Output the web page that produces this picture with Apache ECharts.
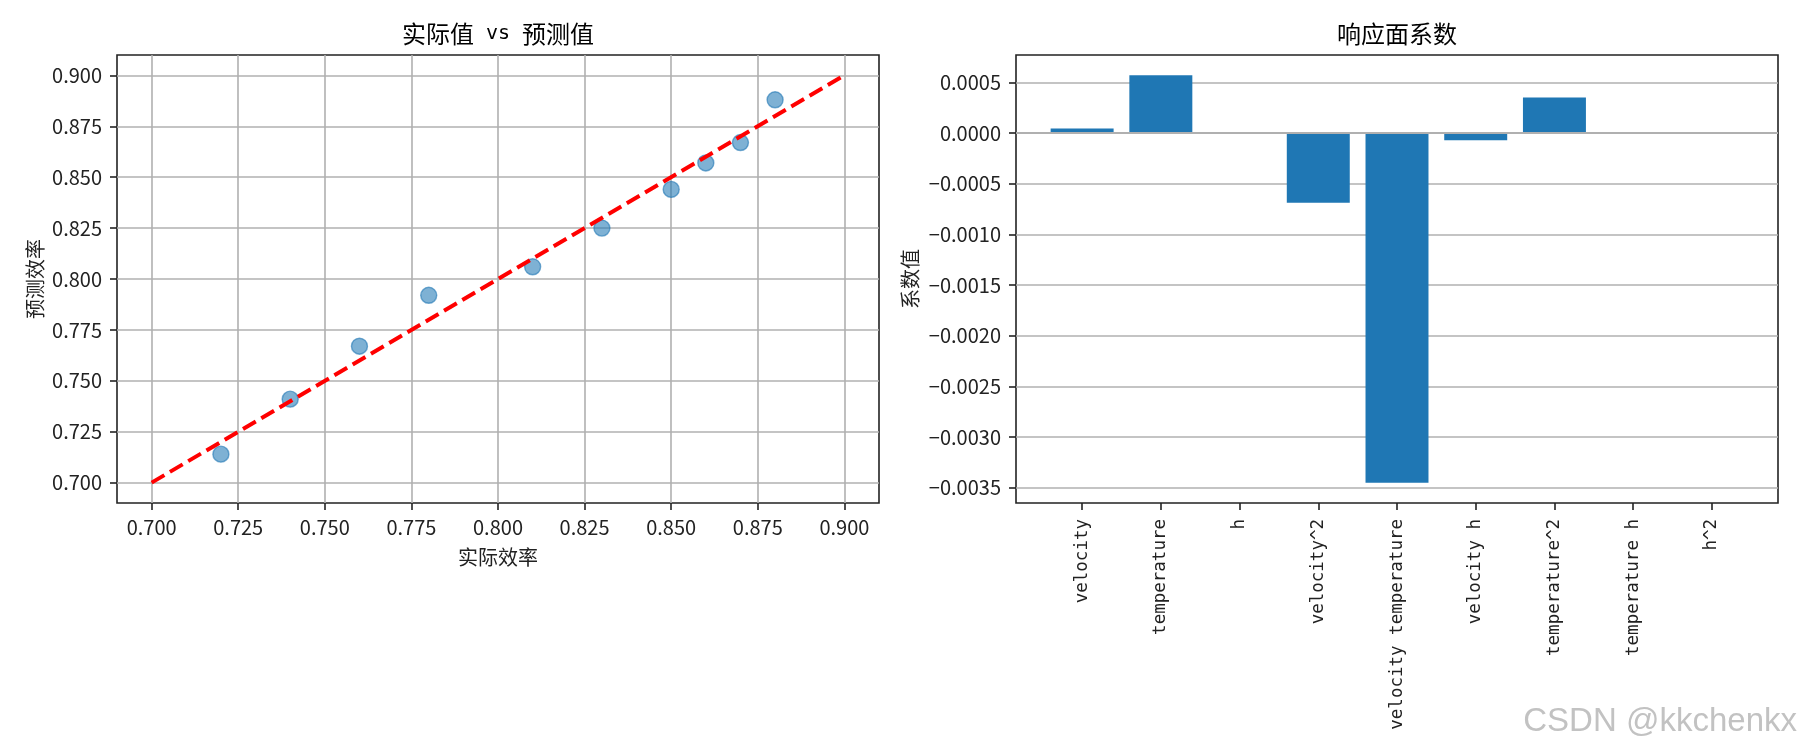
<!DOCTYPE html>
<html><head><meta charset="utf-8">
<script src="https://cdn.jsdelivr.net/npm/echarts@6/dist/echarts.min.js"></script>
<style>html,body{margin:0;padding:0;background:#fff}#c{width:1800px;height:750px}</style>
</head><body><div id="c"></div>
<script>
// ---- data ----
const actual = [0.72, 0.74, 0.76, 0.78, 0.81, 0.83, 0.85, 0.86, 0.87, 0.88];
const predicted = [0.714, 0.741, 0.767, 0.792, 0.806, 0.825, 0.844, 0.857, 0.867, 0.888];
const idealLine = [0.70, 0.90];
const scatterTicks = [0.700, 0.725, 0.750, 0.775, 0.800, 0.825, 0.850, 0.875, 0.900];
const features = ['velocity', 'temperature', 'h', 'velocity^2', 'velocity temperature', 'velocity h', 'temperature^2', 'temperature h', 'h^2'];
const coefs = [0.000045, 0.00057, 0.000002, -0.000687, -0.00345, -0.00007, 0.000351, 0, 0];
const coefTicks = [-0.0035, -0.0030, -0.0025, -0.0020, -0.0015, -0.0010, -0.0005, 0.0000, 0.0005];

// ---- helpers ----
const FONT = "'Noto Sans CJK SC', 'Noto Sans', sans-serif";
const MONO = "'DejaVu Sans Mono', 'Liberation Mono', monospace";
const INK = '#222';
const GRIDC = '#b0b0b0';
const lo = Math.min(idealLine[0], ...actual), hi = Math.max(idealLine[1], ...actual);
const pad = (hi - lo) * 0.05;
const cmin = Math.min(0, ...coefs), cmax = Math.max(0, ...coefs);
const cpad = (cmax - cmin) * 0.05;

const frameL = {left: 117, top: 55, width: 762, height: 448};
const frameR = {left: 1016, top: 55, width: 762, height: 448};
const unit = frameR.width / (features.length - 1 + 0.8 + 2 * 0.05 * (features.length - 1 + 0.8));
const innerOff = (frameR.width - unit * features.length) / 2;
const innerR = {left: frameR.left + innerOff, top: 55, width: unit * features.length, height: 448};

const tickStyle = {show: true, inside: false, length: 7, lineStyle: {color: INK, width: 1.6}};
const labelBase = {color: INK, fontSize: 20, fontFamily: FONT};
const gridLineStyle = {color: GRIDC, width: 1.6, type: 'solid'};

const chart = echarts.init(document.getElementById('c'));
chart.setOption({
  animation: false,
  backgroundColor: '#fff',
  grid: [
    Object.assign({show: true, borderColor: INK, borderWidth: 1.6, backgroundColor: 'transparent'}, frameL),
    Object.assign({show: true, borderColor: INK, borderWidth: 1.6, backgroundColor: 'transparent'}, frameR),
    Object.assign({show: false}, innerR)
  ],
  xAxis: [
    {
      gridIndex: 0, type: 'value', min: lo - pad, max: hi + pad,
      axisLine: {show: false, onZero: false},
      axisTick: Object.assign({customValues: scatterTicks}, tickStyle),
      axisLabel: Object.assign({customValues: scatterTicks, margin: 14, formatter: v => v.toFixed(3)}, labelBase),
      splitLine: {show: true, lineStyle: gridLineStyle},
      name: '实际效率', nameLocation: 'middle', nameGap: 44,
      nameTextStyle: {color: INK, fontSize: 20, fontFamily: FONT}
    },
    {
      gridIndex: 1, type: 'value', min: 0, max: 1,
      axisLine: {show: false, onZero: false}, axisTick: {show: false}, axisLabel: {show: false}, splitLine: {show: false}
    },
    {
      gridIndex: 2, type: 'category', data: features,
      axisLine: {show: false, onZero: false},
      axisTick: Object.assign({alignWithLabel: true}, tickStyle),
      axisLabel: {rotate: 90, margin: 16, interval: 0, color: INK, fontSize: 17.5, fontFamily: MONO},
      splitLine: {show: false}
    }
  ],
  yAxis: [
    {
      gridIndex: 0, type: 'value', min: lo - pad, max: hi + pad,
      axisLine: {show: false, onZero: false},
      axisTick: Object.assign({customValues: scatterTicks}, tickStyle),
      axisLabel: Object.assign({customValues: scatterTicks, margin: 15, formatter: v => v.toFixed(3)}, labelBase),
      splitLine: {show: true, lineStyle: gridLineStyle},
      name: '预测效率', nameLocation: 'middle', nameGap: 72, nameRotate: 90,
      nameTextStyle: {color: INK, fontSize: 20, fontFamily: FONT}
    },
    {
      gridIndex: 1, type: 'value', min: cmin - cpad, max: cmax + cpad,
      axisLine: {show: false, onZero: false},
      axisTick: Object.assign({customValues: coefTicks}, tickStyle),
      axisLabel: Object.assign({customValues: coefTicks, margin: 15,
        formatter: v => (v < -1e-12 ? '\u2212' : '') + Math.abs(v).toFixed(4)}, labelBase),
      splitLine: {show: true, lineStyle: gridLineStyle},
      name: '系数值', nameLocation: 'middle', nameGap: 96, nameRotate: 90,
      nameTextStyle: {color: INK, fontSize: 20, fontFamily: FONT}
    },
    {
      gridIndex: 2, type: 'value', min: cmin - cpad, max: cmax + cpad,
      axisLine: {show: false, onZero: false}, axisTick: {show: false}, axisLabel: {show: false}, splitLine: {show: false}
    }
  ],
  series: [
    {
      type: 'scatter', xAxisIndex: 0, yAxisIndex: 0, z: 3,
      data: actual.map((a, i) => [a, predicted[i]]),
      symbolSize: 16,
      itemStyle: {color: 'rgba(31,119,180,0.72)', borderColor: 'rgba(31,119,180,0.75)', borderWidth: 1.4}
    },
    {
      type: 'line', xAxisIndex: 0, yAxisIndex: 0, z: 4,
      data: [[idealLine[0], idealLine[0]], [idealLine[1], idealLine[1]]],
      symbol: 'none', lineStyle: {color: '#ff0000', width: 4, type: [14.8, 6.4]}
    },
    {
      type: 'bar', xAxisIndex: 2, yAxisIndex: 2, z: 2,
      data: coefs, barWidth: '80%',
      itemStyle: {color: '#1f77b4'}
    },
    {
      // gridlines of the coefficient panel, drawn over the bars as in the reference
      type: 'scatter', xAxisIndex: 1, yAxisIndex: 1, z: 5, silent: true, data: [],
      markLine: {
        silent: true, symbol: ['none', 'none'], label: {show: false},
        lineStyle: gridLineStyle, emphasis: {disabled: true},
        data: coefTicks.map(v => ({yAxis: v}))
      }
    }
  ],
  graphic: [
    {type: 'text', x: frameL.left + frameL.width / 2, y: 34, z: 20,
      style: {text: '{a|实际值}{b| vs }{a|预测值}', align: 'center', verticalAlign: 'middle', fill: '#000',
        rich: {a: {fontSize: 24, fontFamily: FONT, fill: '#000'}, b: {fontSize: 20, fontFamily: MONO, fill: '#000'}}}},
    {type: 'text', x: frameR.left + frameR.width / 2, y: 34, z: 20,
      style: {text: '响应面系数', align: 'center', verticalAlign: 'middle', fill: '#000', font: "24px " + FONT}},
    {type: 'text', x: 1797, y: 722, z: 20,
      style: {text: 'CSDN @kkchenkx', align: 'right', verticalAlign: 'middle', fill: '#c2c2c2', font: "33px 'Liberation Sans', Arial, sans-serif"}}
  ]
});
</script>
</body></html>
